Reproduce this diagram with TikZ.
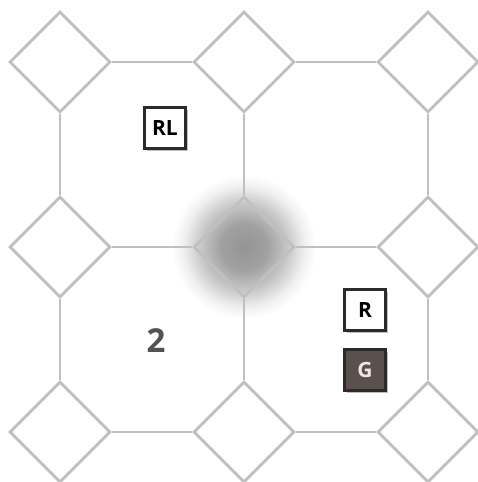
\documentclass[tikz,border=0pt]{standalone}
\usepackage{fontspec}
\setmainfont{Open Sans}
\usetikzlibrary{shapes.geometric,shadows}
\definecolor{gridline}{HTML}{C4BFBF}
\definecolor{boxedge}{HTML}{2E2A2A}
\definecolor{gfill}{HTML}{5A504E}
\definecolor{gtext}{HTML}{F2E4DE}
\definecolor{numtext}{HTML}{555252}
\pgfdeclareradialshading{glow}{\pgfpoint{0bp}{0bp}}{color(0bp)=(black!42); color(8bp)=(black!37); color(15bp)=(black!22); color(21bp)=(black!6); color(25bp)=(white); color(50bp)=(white)}
\begin{document}
\begin{tikzpicture}[x=1pt,y=-1pt,
  cell/.style={diamond, aspect=1, minimum width=101pt, minimum height=101pt, inner sep=0pt, draw=gridline, line width=2.8pt, fill=white},
  hub/.style={cell, fill=none},
  link/.style={draw=gridline, line width=2.8pt},
  tag/.style={rectangle, minimum size=41pt, inner sep=0pt, draw=boxedge, line width=3pt, fill=white, font=\bfseries\fontsize{21}{21}\selectfont, text=black, drop shadow={shadow xshift=2.5pt, shadow yshift=-2.5pt, opacity=0.5}},
  darktag/.style={tag, fill=gfill, text=gtext}]
\useasboundingbox (0,0) rectangle (477,482);
\fill[white] (0,0) rectangle (477,482);
\shade[shading=glow] (244,247) circle (72);
% diamonds
\node[cell] (d11) at (60,62) {};
\node[cell] (d12) at (244,62) {};
\node[cell] (d13) at (428,62) {};
\node[cell] (d21) at (60,247) {};
\node[hub]  (d22) at (244,247) {};
\node[cell] (d23) at (428,247) {};
\node[cell] (d31) at (60,432) {};
\node[cell] (d32) at (244,432) {};
\node[cell] (d33) at (428,432) {};
% horizontal links
\draw[link] (d11.east) -- (d12.west);
\draw[link] (d12.east) -- (d13.west);
\draw[link] (d21.east) -- (d22.west);
\draw[link] (d22.east) -- (d23.west);
\draw[link] (d31.east) -- (d32.west);
\draw[link] (d32.east) -- (d33.west);
% vertical links
\draw[link] (d11.south) -- (d21.north);
\draw[link] (d21.south) -- (d31.north);
\draw[link] (d12.south) -- (d22.north);
\draw[link] (d22.south) -- (d32.north);
\draw[link] (d13.south) -- (d23.north);
\draw[link] (d23.south) -- (d33.north);
% labels
\node[tag] (rl) at (165,128) {RL};
\node[tag] (r) at (365,310) {R};
\node[darktag] (g) at (365,370) {G};
\node[font=\bfseries\fontsize{33}{33}\selectfont, text=numtext] (two) at (156,341) {2};
\end{tikzpicture}
\end{document}
